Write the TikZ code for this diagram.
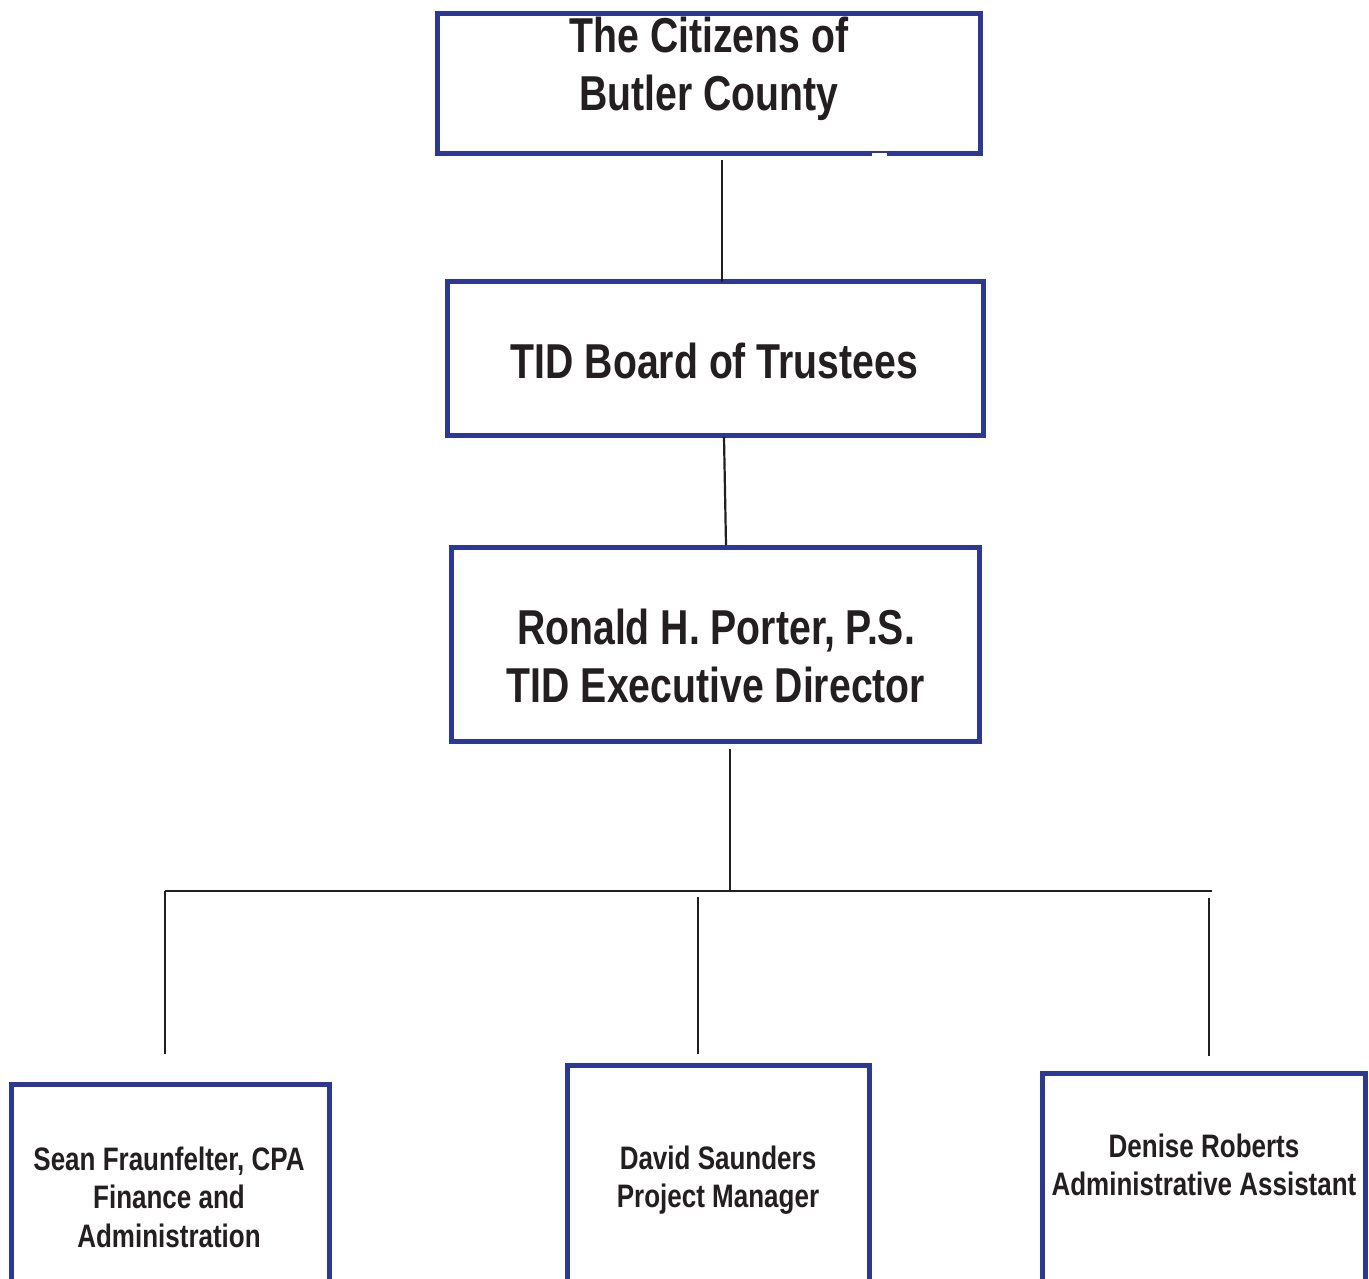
\documentclass[tikz,border=0pt]{standalone}
\usepackage{fontspec}
\newfontfamily\cond{Liberation Sans}[FakeStretch=0.8]
\definecolor{boxblue}{RGB}{45,56,146}
\definecolor{ink}{RGB}{35,31,32}
\tikzset{
  orgbox/.style={draw=boxblue, line width=5.2pt, fill=none, inner sep=0pt, outer sep=0pt, anchor=north west},
  bigtext/.style={text=ink, inner sep=0pt, align=center, font=\cond\bfseries\fontsize{49}{58}\selectfont},
  smalltext/.style={text=ink, inner sep=0pt, align=center, font=\cond\bfseries\fontsize{32.5}{38.5}\selectfont},
  conn/.style={draw=ink, line width=2.2pt},
  busline/.style={draw=ink, line width=2.8pt}
}
\begin{document}
\begin{tikzpicture}[x=1pt,y=-1pt]
\useasboundingbox (0,0) rectangle (1369,1279);
\clip (0,0) rectangle (1369,1279);
\fill[white] (0,0) rectangle (1369,1279);

% boxes
\node[orgbox, minimum width=543pt, minimum height=140pt] (top) at (437.5,13.5) {};
\node[orgbox, minimum width=536pt, minimum height=154pt] (board) at (447.5,281.5) {};
\node[orgbox, minimum width=528pt, minimum height=194pt] (exec) at (451.5,547.5) {};
\node[orgbox, minimum width=318pt, minimum height=240pt] (fin) at (11.5,1084.5) {};
\node[orgbox, minimum width=302pt, minimum height=240pt] (proj) at (567.5,1065.5) {};
\node[orgbox, minimum width=323pt, minimum height=240pt] (adm) at (1042.5,1073.5) {};

% notch in top box bottom edge
\fill[white] (872,153) rectangle (887,157);

% texts
\node[bigtext] (toptxt) at (709,69) {The Citizens of\\Butler County};
\node[bigtext] (boardtxt) at (714.5,361) {TID Board of Trustees};
\node[bigtext] (exectxt) at (716,656) {Ronald H. Porter, P.S.\\TID Executive Director};
\node[smalltext] (fintxt) at (169,1197) {Sean Fraunfelter, CPA\\Finance and\\Administration};
\node[smalltext] (projtxt) at (718,1180) {David Saunders\\Project Manager};
\node[smalltext] (admtxt) at (1204,1165) {Denise Roberts\\Administrative Assistant};

% connectors
\coordinate (c1) at (722,160);
\draw[conn] (c1) -- (c1 |- board.north);
\coordinate (c2a) at (724,437);
\coordinate (c2b) at (726,545);
\draw[conn] (c2a) -- (c2b);
\coordinate (c3a) at (730,749);
\coordinate (c3b) at (730,891);
\draw[conn] (c3a) -- (c3b);
\coordinate (busL) at (165,891);
\coordinate (busR) at (1212,891);
\draw[busline] (busL) -- (busR);
\coordinate (d1b) at (165,1054);
\draw[conn] (busL) -- (d1b);
\coordinate (d2a) at (698,897);
\coordinate (d2b) at (698,1054);
\draw[conn] (d2a) -- (d2b);
\coordinate (d3a) at (1209,898);
\coordinate (d3b) at (1209,1056);
\draw[conn] (d3a) -- (d3b);
\end{tikzpicture}
\end{document}
